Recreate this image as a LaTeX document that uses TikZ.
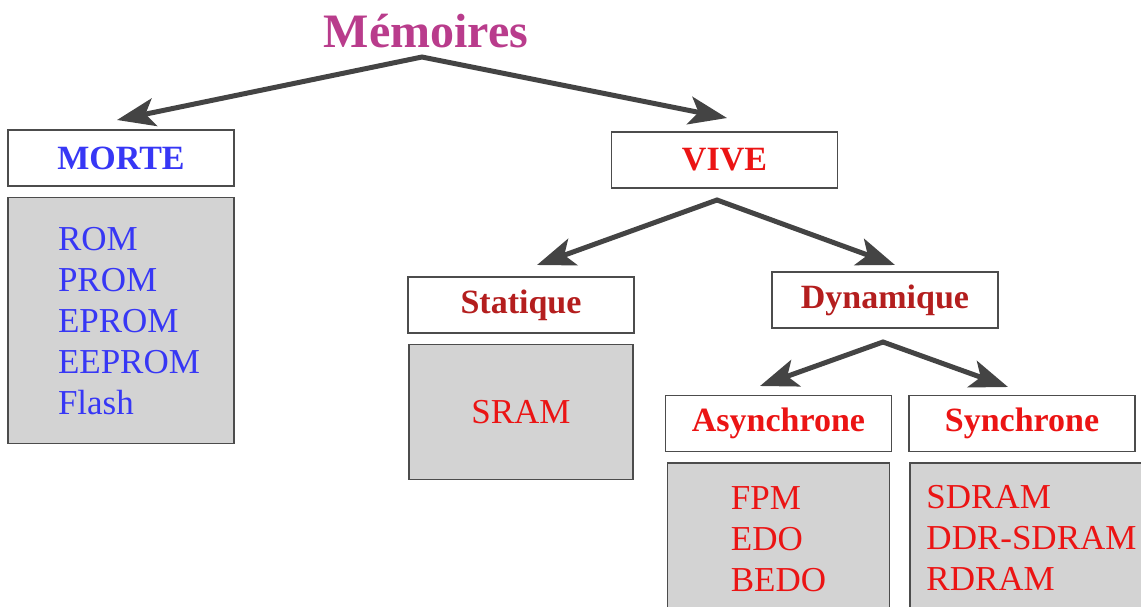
\documentclass[tikz,border=0pt]{standalone}
\usepackage{fontspec}
\setmainfont{Liberation Serif}
\usetikzlibrary{arrows.meta,positioning}

\definecolor{titremag}{RGB}{185,60,140}
\definecolor{bleumorte}{RGB}{55,55,245}
\definecolor{rougevive}{RGB}{235,20,20}
\definecolor{rougefonce}{RGB}{180,30,30}
\definecolor{grisfond}{RGB}{211,211,211}
\definecolor{grisfleche}{RGB}{68,68,68}

\begin{document}
\begin{tikzpicture}[x=1pt,y=-1pt,>={Stealth[length=38pt,width=28pt,inset=9pt]},
  fleche/.style={<->,draw=grisfleche,line width=5pt},
  entete/.style={draw=black!70,line width=1.6pt,fill=white,minimum width=226pt,minimum height=56pt,inner sep=0pt,font=\fontsize{34}{40}\selectfont\bfseries},
  liste/.style={draw=black!70,line width=1.6pt,fill=grisfond,inner sep=0pt,align=left,font=\fontsize{35}{41}\selectfont}]
\useasboundingbox (0,0) rectangle (1141,606);

\node[anchor=base,font=\fontsize{48}{52}\selectfont\bfseries,text=titremag] (memoires) at (426,47) {Mémoires};

\node[entete,text=bleumorte] (morte) at (121,158) {MORTE};
\node[liste,text=bleumorte,below=10pt of morte,minimum width=226pt,minimum height=246pt] (lmorte) {\hspace*{16pt}ROM\\\hspace*{16pt}PROM\\\hspace*{16pt}EPROM\\\hspace*{16pt}EEPROM\\\hspace*{16pt}Flash};

\node[entete,text=rougevive] (vive) at (724.5,160) {VIVE};

\node[entete,text=rougefonce] (statique) at (521,305) {Statique};
\node[liste,text=rougevive,below=10pt of statique,minimum width=224pt,minimum height=135pt] (lstatique) {SRAM};

\node[entete,text=rougefonce] (dynamique) at (885,300) {Dynamique};

\node[entete,text=rougevive] (asynchrone) at (778.5,423.5) {Asynchrone};
\node[liste,text=rougevive,below=10pt of asynchrone,minimum width=222pt,minimum height=152pt] (lasync) {FPM\\EDO\\BEDO};

\node[entete,text=rougevive] (synchrone) at (1022,423.5) {Synchrone};
\node[liste,text=rougevive,below=10pt of synchrone.south west,anchor=north west,xshift=1pt,minimum width=243pt,minimum height=150pt] (lsync) {SDRAM\\DDR-SDRAM\\RDRAM};

% fleches
\coordinate (hautM) at (422,57);
\coordinate (versM) at (117,120);
\coordinate (versV) at (727,118);
\coordinate (hautV) at (717,200);
\coordinate (versS) at (537,265);
\coordinate (versD) at (895,265);
\coordinate (hautD) at (883,342);
\coordinate (versA) at (760,386);
\coordinate (versY) at (1008,387);

\draw[fleche] (versM) -- (hautM) -- (versV);
\draw[fleche] (versS) -- (hautV) -- (versD);
\draw[fleche] (versA) -- (hautD) -- (versY);

\end{tikzpicture}
\end{document}
